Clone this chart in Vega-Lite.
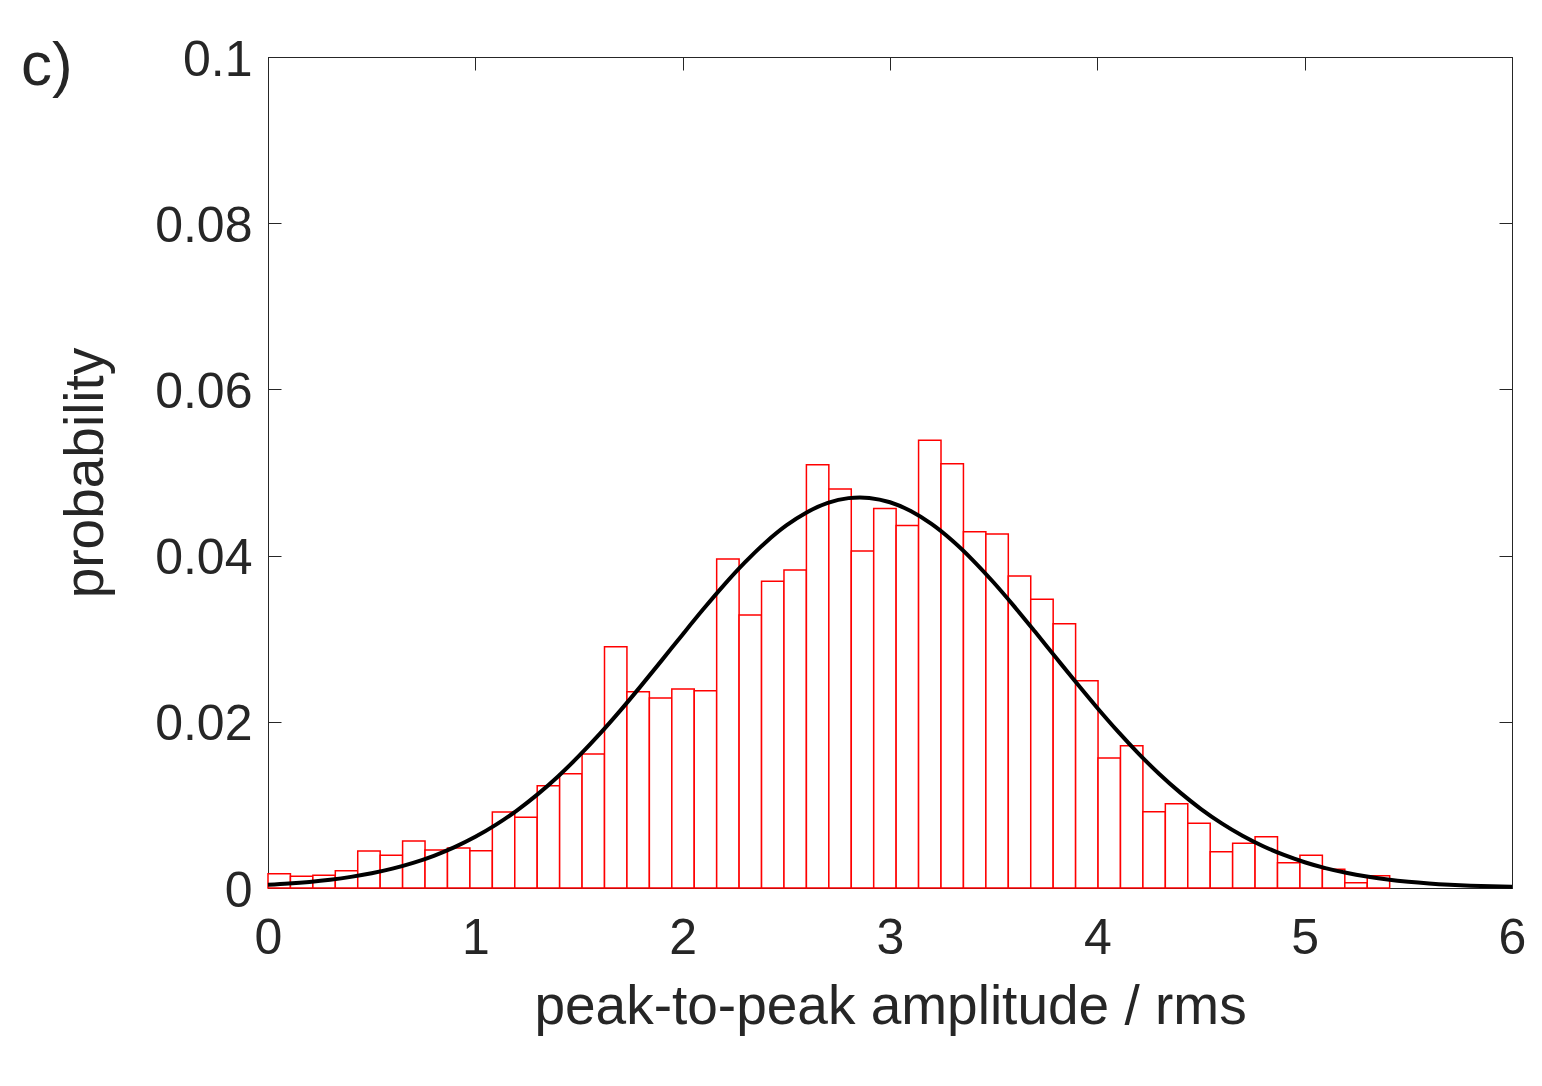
{
  "$schema": "https://vega.github.io/schema/vega-lite/v6.json",
  "autosize": "none",
  "width": 1244,
  "height": 831,
  "padding": {"left": 268, "top": 57, "right": 30, "bottom": 198},
  "background": "white",
  "config": {
    "view": {"stroke": "#262626", "strokeWidth": 1},
    "font": "Liberation Sans",
    "axis": {
      "grid": false,
      "domainColor": "#262626",
      "domainWidth": 1,
      "tickColor": "#262626",
      "tickWidth": 1,
      "tickSize": -13,
      "labelFlush": false,
      "labelOverlap": false,
      "labelColor": "#262626",
      "labelFont": "Liberation Sans",
      "labelFontSize": 50,
      "titleColor": "#262626",
      "titleFont": "Liberation Sans",
      "titleFontSize": 55,
      "titleFontWeight": "normal"
    }
  },
  "title": {
    "text": "c)",
    "anchor": "start",
    "frame": "group",
    "orient": "top",
    "offset": 0,
    "dx": -247,
    "dy": 112,
    "baseline": "alphabetic",
    "font": "Liberation Sans",
    "fontSize": 62,
    "fontWeight": "normal",
    "color": "#262626"
  },
  "datasets": {
    "bins": [
      {"start": 0.0, "end": 0.1082, "p": 0.00172},
      {"start": 0.1082, "end": 0.2164, "p": 0.0014},
      {"start": 0.2164, "end": 0.3246, "p": 0.00152},
      {"start": 0.3246, "end": 0.4328, "p": 0.00208},
      {"start": 0.4328, "end": 0.541, "p": 0.00445},
      {"start": 0.541, "end": 0.6492, "p": 0.00393},
      {"start": 0.6492, "end": 0.7574, "p": 0.00566},
      {"start": 0.7574, "end": 0.8656, "p": 0.00457},
      {"start": 0.8656, "end": 0.9738, "p": 0.00481},
      {"start": 0.9738, "end": 1.082, "p": 0.00449},
      {"start": 1.082, "end": 1.1902, "p": 0.00915},
      {"start": 1.1902, "end": 1.2984, "p": 0.0085},
      {"start": 1.2984, "end": 1.4066, "p": 0.01231},
      {"start": 1.4066, "end": 1.5148, "p": 0.01376},
      {"start": 1.5148, "end": 1.623, "p": 0.01613},
      {"start": 1.623, "end": 1.7312, "p": 0.02904},
      {"start": 1.7312, "end": 1.8394, "p": 0.02362},
      {"start": 1.8394, "end": 1.9476, "p": 0.02287},
      {"start": 1.9476, "end": 2.0558, "p": 0.02395},
      {"start": 2.0558, "end": 2.164, "p": 0.02375},
      {"start": 2.164, "end": 2.2722, "p": 0.03959},
      {"start": 2.2722, "end": 2.3804, "p": 0.03285},
      {"start": 2.3804, "end": 2.4886, "p": 0.0369},
      {"start": 2.4886, "end": 2.5968, "p": 0.03827},
      {"start": 2.5968, "end": 2.705, "p": 0.05094},
      {"start": 2.705, "end": 2.8132, "p": 0.04801},
      {"start": 2.8132, "end": 2.9214, "p": 0.04055},
      {"start": 2.9214, "end": 3.0296, "p": 0.04568},
      {"start": 3.0296, "end": 3.1378, "p": 0.04363},
      {"start": 3.1378, "end": 3.246, "p": 0.05387},
      {"start": 3.246, "end": 3.3542, "p": 0.05106},
      {"start": 3.3542, "end": 3.4624, "p": 0.04287},
      {"start": 3.4624, "end": 3.5706, "p": 0.0426},
      {"start": 3.5706, "end": 3.6788, "p": 0.03755},
      {"start": 3.6788, "end": 3.787, "p": 0.03474},
      {"start": 3.787, "end": 3.8952, "p": 0.0318},
      {"start": 3.8952, "end": 4.0034, "p": 0.02495},
      {"start": 4.0034, "end": 4.1116, "p": 0.01564},
      {"start": 4.1116, "end": 4.2198, "p": 0.01712},
      {"start": 4.2198, "end": 4.328, "p": 0.00918},
      {"start": 4.328, "end": 4.4362, "p": 0.01014},
      {"start": 4.4362, "end": 4.5444, "p": 0.00778},
      {"start": 4.5444, "end": 4.6526, "p": 0.00437},
      {"start": 4.6526, "end": 4.7608, "p": 0.00538},
      {"start": 4.7608, "end": 4.869, "p": 0.00618},
      {"start": 4.869, "end": 4.9772, "p": 0.00305},
      {"start": 4.9772, "end": 5.0854, "p": 0.00393},
      {"start": 5.0854, "end": 5.1936, "p": 0.00225},
      {"start": 5.1936, "end": 5.3018, "p": 0.00064},
      {"start": 5.3018, "end": 5.41, "p": 0.00148}
    ],
    "fit": [
      {"x": 0.0, "p": 0.000381},
      {"x": 0.1, "p": 0.000531},
      {"x": 0.2, "p": 0.000731},
      {"x": 0.3, "p": 0.000994},
      {"x": 0.4, "p": 0.001336},
      {"x": 0.5, "p": 0.001776},
      {"x": 0.6, "p": 0.002331},
      {"x": 0.7, "p": 0.003025},
      {"x": 0.8, "p": 0.003878},
      {"x": 0.9, "p": 0.004914},
      {"x": 1.0, "p": 0.006155},
      {"x": 1.1, "p": 0.007619},
      {"x": 1.2, "p": 0.00932},
      {"x": 1.3, "p": 0.011264},
      {"x": 1.4, "p": 0.013458},
      {"x": 1.5, "p": 0.015888},
      {"x": 1.6, "p": 0.018537},
      {"x": 1.7, "p": 0.021371},
      {"x": 1.8, "p": 0.024353},
      {"x": 1.9, "p": 0.027422},
      {"x": 2.0, "p": 0.030519},
      {"x": 2.1, "p": 0.033563},
      {"x": 2.2, "p": 0.03648},
      {"x": 2.3, "p": 0.03918},
      {"x": 2.4, "p": 0.041589},
      {"x": 2.5, "p": 0.04363},
      {"x": 2.6, "p": 0.045229},
      {"x": 2.7, "p": 0.046337},
      {"x": 2.8, "p": 0.046916},
      {"x": 2.855, "p": 0.047},
      {"x": 2.9, "p": 0.046944},
      {"x": 3.0, "p": 0.04642},
      {"x": 3.1, "p": 0.045363},
      {"x": 3.2, "p": 0.043809},
      {"x": 3.3, "p": 0.041811},
      {"x": 3.4, "p": 0.039436},
      {"x": 3.5, "p": 0.036759},
      {"x": 3.6, "p": 0.033862},
      {"x": 3.7, "p": 0.030825},
      {"x": 3.8, "p": 0.027733},
      {"x": 3.9, "p": 0.024658},
      {"x": 4.0, "p": 0.021665},
      {"x": 4.1, "p": 0.018812},
      {"x": 4.2, "p": 0.016143},
      {"x": 4.3, "p": 0.01369},
      {"x": 4.4, "p": 0.011474},
      {"x": 4.5, "p": 0.009502},
      {"x": 4.6, "p": 0.00778},
      {"x": 4.7, "p": 0.006291},
      {"x": 4.8, "p": 0.00503},
      {"x": 4.9, "p": 0.003973},
      {"x": 5.0, "p": 0.003102},
      {"x": 5.1, "p": 0.002394},
      {"x": 5.2, "p": 0.001826},
      {"x": 5.3, "p": 0.001375},
      {"x": 5.4, "p": 0.001025},
      {"x": 5.5, "p": 0.000754},
      {"x": 5.6, "p": 0.000548},
      {"x": 5.7, "p": 0.000394},
      {"x": 5.8, "p": 0.00028},
      {"x": 5.9, "p": 0.000196},
      {"x": 6.0, "p": 0.000136}
    ]
  },
  "resolve": {"axis": {"x": "independent", "y": "independent"}},
  "layer": [
    {
      "data": {"name": "bins"},
      "mark": {"type": "rect", "fill": "white", "stroke": "#ff0000", "strokeWidth": 1.5},
      "encoding": {
        "x": {
          "field": "start",
          "type": "quantitative",
          "scale": {"domain": [0, 6], "nice": false, "zero": false},
          "axis": {
            "orient": "bottom",
            "values": [0, 1, 2, 3, 4, 5, 6],
            "format": "d",
            "labelPadding": 38,
            "title": "peak-to-peak amplitude / rms",
            "titleY": 135,
            "titleBaseline": "alphabetic"
          }
        },
        "x2": {"field": "end"},
        "y": {
          "field": "p",
          "type": "quantitative",
          "scale": {"domain": [0, 0.1], "nice": false},
          "axis": {
            "orient": "left",
            "values": [0, 0.02, 0.04, 0.06, 0.08, 0.1],
            "format": "~g",
            "labelPadding": 29,
            "labelOffset": 3,
            "title": "probability",
            "titleX": -166,
            "titleBaseline": "alphabetic"
          }
        },
        "y2": {"datum": 0}
      }
    },
    {
      "data": {"name": "fit"},
      "mark": {"type": "line", "color": "black", "strokeWidth": 4, "interpolate": "monotone"},
      "encoding": {
        "x": {
          "field": "x",
          "type": "quantitative",
          "scale": {"domain": [0, 6], "nice": false, "zero": false},
          "axis": {"orient": "top", "values": [0, 1, 2, 3, 4, 5, 6], "labels": false, "title": null}
        },
        "y": {
          "field": "p",
          "type": "quantitative",
          "scale": {"domain": [0, 0.1], "nice": false},
          "axis": {"orient": "right", "values": [0, 0.02, 0.04, 0.06, 0.08, 0.1], "labels": false, "title": null}
        }
      }
    }
  ]
}
